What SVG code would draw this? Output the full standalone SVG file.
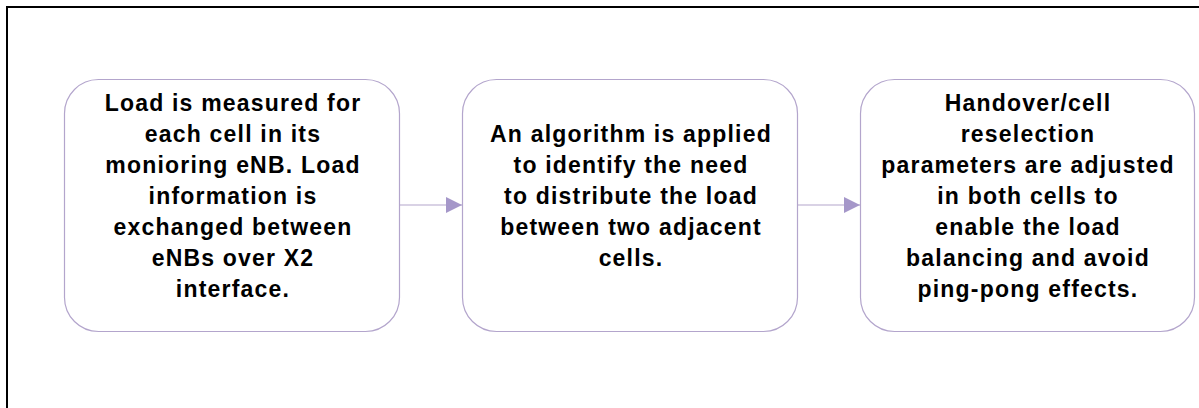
<svg xmlns="http://www.w3.org/2000/svg" width="1199" height="408" viewBox="0 0 1199 408">
  <style>
    .frame { fill: none; stroke: #000; stroke-width: 2; }
    .box { fill: #fff; stroke: #b3a5cc; stroke-width: 1.2; }
    .link { stroke: #b3a5cc; stroke-width: 1.2; fill: none; }
    .label { font-family: "Liberation Sans", Arial, sans-serif; font-weight: bold; font-size: 23px; letter-spacing: 1.2px; fill: #000; text-anchor: middle; }
  </style>
  <defs>
    <marker id="arrow" markerUnits="userSpaceOnUse" markerWidth="18" markerHeight="18" refX="16" refY="8" orient="auto">
      <path d="M0,0 L16,8 L0,16 Z" fill="#a597c9"/>
    </marker>
  </defs>

  <rect class="frame" x="7" y="7" width="1200" height="410"/>

  <g id="connectors">
    <line class="link" x1="399" y1="205" x2="462" y2="205" marker-end="url(#arrow)"/>
    <line class="link" x1="797" y1="205" x2="860" y2="205" marker-end="url(#arrow)"/>
  </g>

  <g id="node-measure">
    <rect class="box" x="64.5" y="79.5" width="335" height="252" rx="34"/>
    <text class="label" x="233" y="111">Load is measured for</text>
    <text class="label" x="233" y="142">each cell in its</text>
    <text class="label" x="233" y="173">monioring eNB. Load</text>
    <text class="label" x="233" y="204">information is</text>
    <text class="label" x="233" y="235">exchanged between</text>
    <text class="label" x="233" y="266">eNBs over X2</text>
    <text class="label" x="233" y="297">interface.</text>
  </g>

  <g id="node-algorithm">
    <rect class="box" x="462.5" y="79.5" width="335" height="252" rx="34"/>
    <text class="label" x="631" y="142">An algorithm is applied</text>
    <text class="label" x="631" y="173">to identify the need</text>
    <text class="label" x="631" y="204">to distribute the load</text>
    <text class="label" x="631" y="235">between two adjacent</text>
    <text class="label" x="631" y="266">cells.</text>
  </g>

  <g id="node-adjust">
    <rect class="box" x="860.5" y="79.5" width="334" height="252" rx="34"/>
    <text class="label" x="1028" y="111">Handover/cell</text>
    <text class="label" x="1028" y="142">reselection</text>
    <text class="label" x="1028" y="173">parameters are adjusted</text>
    <text class="label" x="1028" y="204">in both cells to</text>
    <text class="label" x="1028" y="235">enable the load</text>
    <text class="label" x="1028" y="266">balancing and avoid</text>
    <text class="label" x="1028" y="297">ping-pong effects.</text>
  </g>
</svg>
